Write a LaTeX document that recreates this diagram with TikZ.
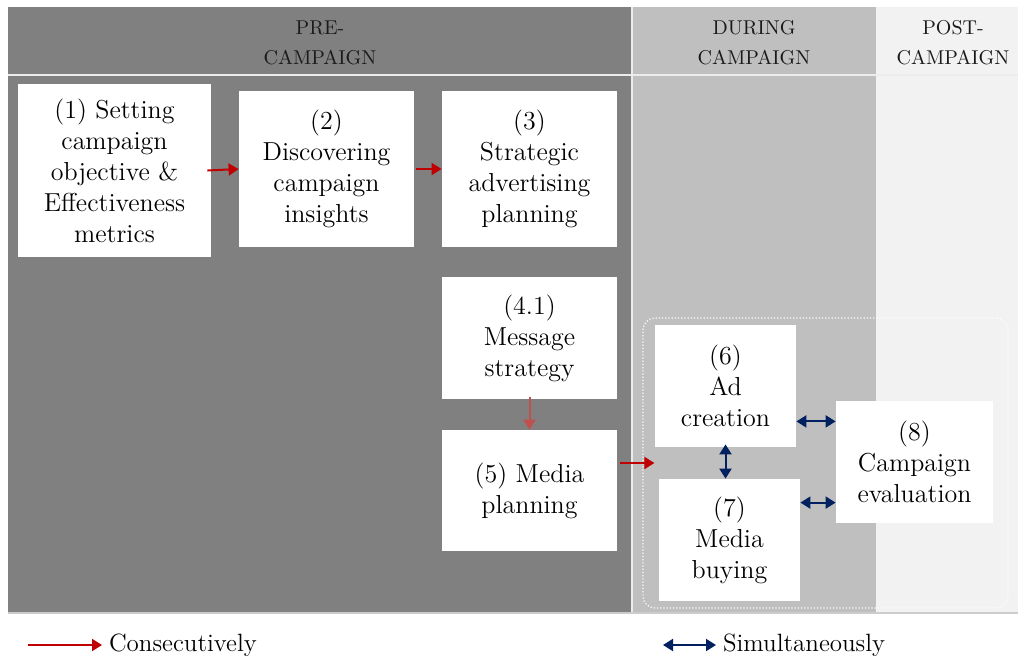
\documentclass[tikz,border=0pt]{standalone}
\usepackage{tikz}
\usepackage{xcolor}
\usetikzlibrary{arrows.meta,positioning,calc}
\definecolor{predark}{HTML}{808080}
\definecolor{duringgray}{HTML}{BFBFBF}
\definecolor{postlight}{HTML}{F2F2F2}
\definecolor{seqred}{HTML}{C00000}
\definecolor{softred}{HTML}{C0504D}
\definecolor{simblue}{HTML}{002060}
\definecolor{headtext}{HTML}{1A1A1A}

\tikzset{
  stage/.style={fill=white,align=center,inner sep=2pt,
                font=\fontsize{13}{15.5}\selectfont},
  phase/.style={align=center,text=headtext,font=\fontsize{10}{15}\selectfont},
  seq/.style={seqred,line width=1pt,-{Triangle[width=6pt,length=5pt]}},
  sim/.style={simblue,line width=1pt,{Triangle[width=6pt,length=5pt]}-{Triangle[width=6pt,length=5pt]}},
  legendtext/.style={anchor=west,font=\fontsize{12.5}{15}\selectfont}
}

\begin{document}
\begin{tikzpicture}[x=0.5pt,y=-0.5pt]
\useasboundingbox (0,0) rectangle (1020,670);
% phase bands
\fill[predark] (8,7) rectangle (632,612);
\fill[duringgray] (632,7) rectangle (876,612);
\fill[postlight] (876,7) rectangle (1018,612);
\draw[white!85!gray,line width=1.2pt] (8,75) -- (1018,75);
\draw[white!85!gray,line width=0.6pt] (632,7) -- (632,612);
\draw[gray!40,line width=0.8pt] (8,613) -- (1018,613);
% phase headings
\node[phase] (hpre) at (320,43) {PRE-\\CAMPAIGN};
\node[phase] (hdur) at (754,43) {DURING\\CAMPAIGN};
\node[phase] (hpost) at (953,43) {POST-\\CAMPAIGN};
% dotted group round the simultaneous steps
\node[draw=white,densely dotted,line width=0.6pt,rounded corners=6pt,
      minimum width=182.5pt,minimum height=145pt] (grp) at (825.5,463) {};
% steps
\node[stage,minimum width=96.5pt,minimum height=86.5pt] (n1) at (114.5,170.5)
     {(1) Setting\\campaign\\objective \&\\Effectiveness\\metrics};
\node[stage,minimum width=87.5pt,minimum height=78pt] (n2) at (326.5,169)
     {(2)\\Discovering\\campaign\\insights};
\node[stage,minimum width=87.5pt,minimum height=78pt] (n3) at (529.5,169)
     {(3)\\Strategic\\advertising\\planning};
\node[stage,minimum width=87.5pt,minimum height=61pt] (n41) at (529.5,338)
     {(4.1)\\Message\\strategy};
\node[stage,minimum width=87.5pt,minimum height=60.5pt] (n5) at (529.5,490.5)
     {(5) Media\\planning};
\node[stage,minimum width=70.5pt,minimum height=61pt] (n6) at (725.5,386)
     {(6)\\Ad\\creation};
\node[stage,minimum width=70.5pt,minimum height=61pt] (n7) at (729.5,540)
     {(7)\\Media\\buying};
\node[stage,minimum width=78.5pt,minimum height=61pt] (n8) at (914.5,462)
     {(8)\\Campaign\\evaluation};
% consecutive steps
\draw[seq] ([xshift=-2pt]n1.east) -- (n2.west);
\draw[seq] ([xshift=1pt]n2.east) -- (n3.west);
\draw[seq,softred] ([yshift=1pt]n41.south) -- (n5.north);
\draw[seq] ([xshift=1.5pt]grp.west -| n5.east) -- ([xshift=6pt]grp.west);
% simultaneous steps
\draw[sim] ([yshift=13pt]n6.south east) -- ([yshift=13pt]n6.south east -| n8.west);
\draw[sim] ([yshift=-12pt]n7.north east) -- ([yshift=-12pt]n7.north east -| n8.west);
\draw[sim] ([yshift=1.5pt]n6.south) -- (n6.south |- n7.north);
% legend
\coordinate (lgc0) at (28,645);
\node[legendtext] (lgc) at (102,645) {Consecutively};
\draw[seq] (lgc0) -- (lgc.west);
\coordinate (lgs0) at (663,645);
\node[legendtext] (lgs) at (716,645) {Simultaneously};
\draw[sim] (lgs0) -- (lgs.west);
\end{tikzpicture}
\end{document}
